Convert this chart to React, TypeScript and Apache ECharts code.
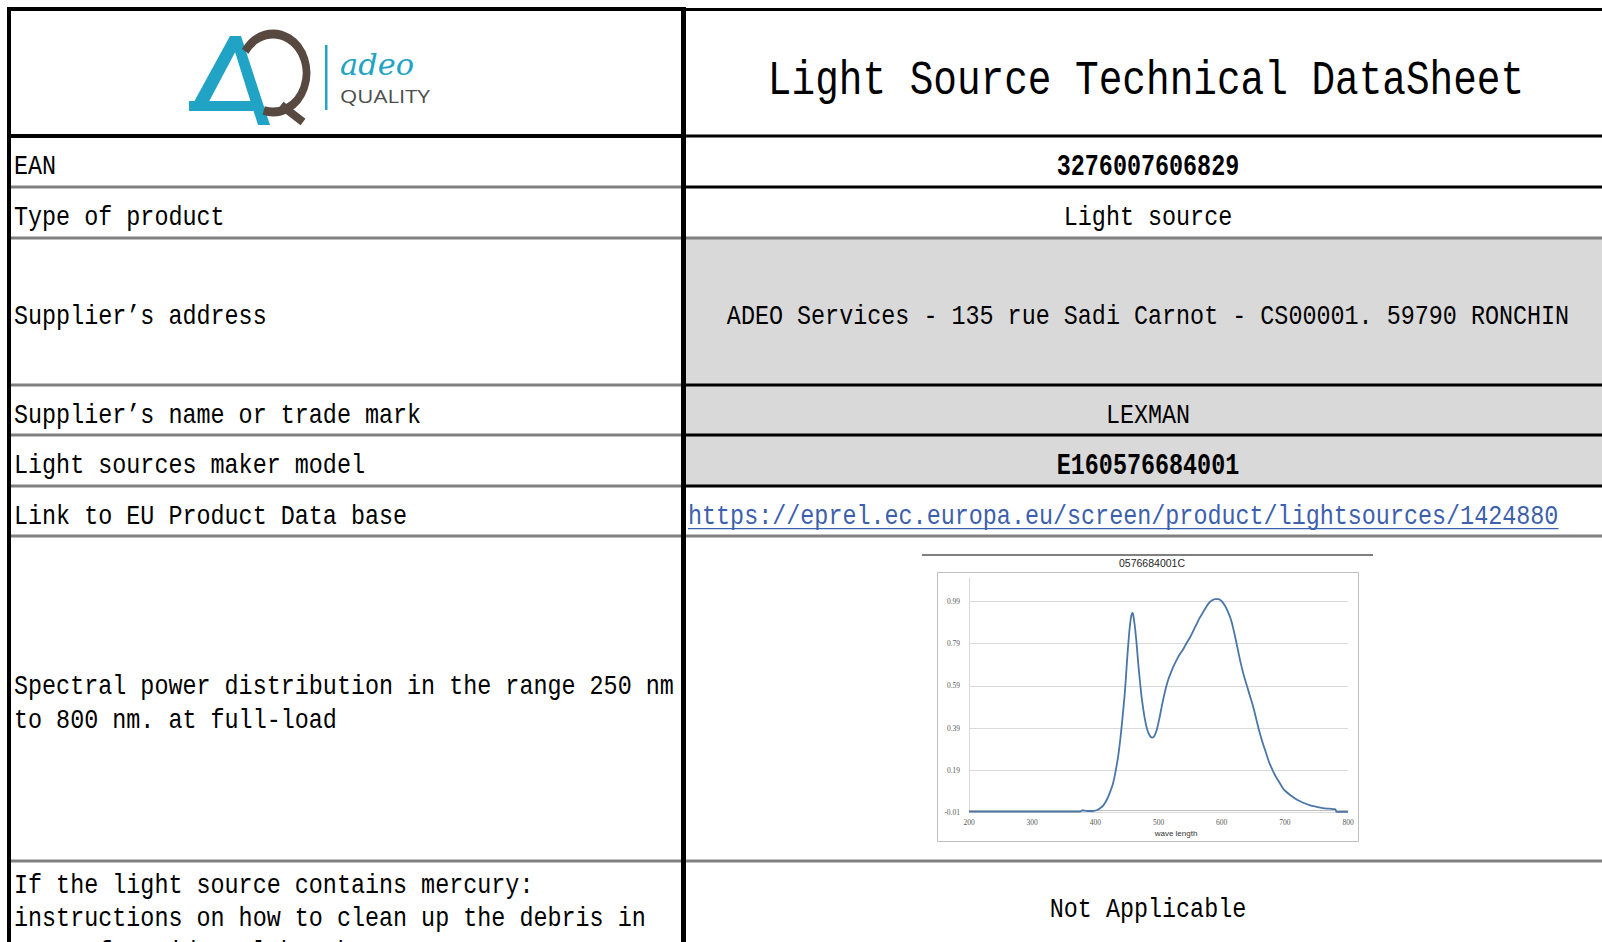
import React, { useEffect, useRef } from "react";
import * as echarts from "echarts";

// ---------- data ----------
const chartTitle = "0576684001C";
const xAxisName = "wave length";
const xTickValues = [200, 300, 400, 500, 600, 700, 800];
const yTickLabels = ["-0.01", "0.19", "0.39", "0.59", "0.79", "0.99"];

const wavelengths = [
  200, 250, 300, 350, 376, 379, 383, 390, 398, 403, 408, 413, 418, 423, 428, 432, 436, 440, 444, 447,
  450, 453, 455, 457, 459, 461, 463, 465, 468, 471, 474, 478, 482, 486, 490, 493, 497, 501, 505, 510,
  515, 520, 525, 530, 535, 540, 545, 550, 555, 560, 565, 570, 575, 580, 585, 590, 595, 600, 605, 610,
  615, 620, 625, 630, 635, 640, 645, 650, 655, 660, 665, 670, 675, 680, 685, 690, 695, 700, 710, 720,
  730, 740, 750, 760, 770, 778, 780, 782, 790, 800,
];
const intensities = [
  -0.005, -0.005, -0.005, -0.005, -0.005, 0.001, 0.0, -0.002, -0.001, 0.003, 0.012, 0.026, 0.05, 0.085, 0.128, 0.185, 0.254, 0.35, 0.47, 0.569,
  0.7, 0.82, 0.88, 0.922, 0.935, 0.905, 0.86, 0.8, 0.694, 0.6, 0.52, 0.44, 0.385, 0.355, 0.345, 0.35, 0.38, 0.43, 0.49, 0.56,
  0.615, 0.655, 0.69, 0.72, 0.745, 0.768, 0.795, 0.82, 0.85, 0.88, 0.91, 0.935, 0.96, 0.982, 0.995, 1.0, 1.0, 0.99, 0.97, 0.94,
  0.9, 0.84, 0.77, 0.7, 0.64, 0.59, 0.54, 0.49, 0.43, 0.37, 0.32, 0.275, 0.23, 0.195, 0.165, 0.14, 0.115, 0.095, 0.07, 0.05,
  0.036, 0.025, 0.018, 0.012, 0.009, 0.007, 0.006, -0.006, -0.006, -0.006,
];

const pageTitle = "Light Source Technical DataSheet";
const rowLabels = [
  ["EAN"],
  ["Type of product"],
  ["Supplier’s address"],
  ["Supplier’s name or trade mark"],
  ["Light sources maker model"],
  ["Link to EU Product Data base"],
  ["Spectral power distribution in the range 250 nm", "to 800 nm. at full-load"],
  ["If the light source contains mercury:", "instructions on how to clean up the debris in", "case of accidental breakage"],
];
const rowValues = [
  "3276007606829",
  "Light source",
  "ADEO Services - 135 rue Sadi Carnot - CS00001. 59790 RONCHIN",
  "LEXMAN",
  "E160576684001",
  "https://eprel.ec.europa.eu/screen/product/lightsources/1424880",
  "",
  "Not Applicable",
];

// ---------- layout ----------
const W = 1602;
const H = 942;
const DIV_X = 683; // divider center
const rowBounds = [9, 136, 187, 238, 385, 435, 486, 536, 861, 1000];
const leftLineColor = ["#000", "#000", "#808080", "#808080", "#808080", "#808080", "#808080", "#808080", "#808080"];
const rightLineColor = ["#000", "#000", "#000", "#808080", "#000", "#000", "#000", "#808080", "#808080"];
const grayRows = [2, 3, 4];
const boldRows = [0, 4];
const FONT = "'Liberation Mono', 'DejaVu Sans Mono', monospace";
const FS = 23.4;
const SY = 1.22;

function txt(x: number, y: number, text: string, opts: any = {}) {
  const align = opts.align || "left";
  return {
    type: "text",
    x,
    y,
    scaleY: opts.scaleY ?? SY,
    scaleX: opts.scaleX ?? 1,
    z: 30,
    silent: true,
    style: {
      text,
      fill: opts.fill || "#000",
      fontSize: opts.fontSize || FS,
      fontFamily: opts.fontFamily || FONT,
      fontWeight: opts.fontWeight || "normal",
      fontStyle: opts.fontStyle || "normal",
      align,
      textAlign: align,
      verticalAlign: "middle",
      textVerticalAlign: "middle",
    },
  };
}

function rect(x: number, y: number, w: number, h: number, fill: string, z = 10) {
  return { type: "rect", z, silent: true, shape: { x, y, width: w, height: h }, style: { fill } };
}

function buildGraphics() {
  const g: any[] = [];
  // gray fills
  grayRows.forEach((r) => {
    g.push(rect(DIV_X, rowBounds[r + 1], W - DIV_X, rowBounds[r + 2] - rowBounds[r + 1], "#d9d9d9", 1));
  });
  // horizontal lines
  for (let i = 0; i < 9; i++) {
    const y = rowBounds[i];
    const lw = i <= 1 ? 4 : 3;
    g.push(rect(7, y - lw / 2, DIV_X - 7, lw, leftLineColor[i]));
    g.push(rect(DIV_X, y - 1.5 + (i === 0 ? 0.5 : 0), W - DIV_X, 3, rightLineColor[i]));
  }
  // vertical lines
  g.push(rect(7, 7, 4, H - 7, "#000", 12));
  g.push(rect(DIV_X - 2, 7, 5, H - 7, "#000", 12));

  // header title
  g.push(txt(1146, 81.5, pageTitle, { align: "center", fontSize: 39.4, scaleY: 1.2 }));

  // row texts
  const lineGap = 33.8;
  rowLabels.forEach((lines, r) => {
    const top = rowBounds[r + 1];
    const bottom = r === 7 ? 960 : rowBounds[r + 2];
    const mid = (top + bottom) / 2 + 5;
    const cy = r === 7 ? 885 + lineGap : mid;
    lines.forEach((ln, k) => {
      const y = cy + (k - (lines.length - 1) / 2) * lineGap;
      g.push(txt(14, y, ln));
    });
    const v = rowValues[r];
    if (!v) return;
    if (r === 5) {
      g.push(txt(688, mid, v, { fill: "#3c5fae" }));
      g.push(rect(688, mid + 12, v.length * FS * 0.6, 1.3, "#3c5fae", 30));
    } else if (r === 7) {
      g.push(txt(1148, 909, v, { align: "center" }));
    } else {
      g.push(
        txt(1148, mid, v, {
          align: "center",
          fontWeight: boldRows.includes(r) ? "bold" : "normal",
          scaleY: boldRows.includes(r) ? 1.3 : SY,
        })
      );
    }
  });

  // logo
  const teal = "#20a3c4";
  const brown = "#574840";
  g.push({ type: "polygon", z: 20, silent: true, shape: { points: [[189, 111], [204, 111], [240, 43], [230, 36]] }, style: { fill: teal } });
  g.push({ type: "polygon", z: 20, silent: true, shape: { points: [[230, 36], [241, 36], [270, 125], [258, 125]] }, style: { fill: teal } });
  g.push({ type: "polygon", z: 20, silent: true, shape: { points: [[189, 101], [251, 101], [254, 111], [189, 111]] }, style: { fill: teal } });
  g.push({
    type: "group",
    x: 273,
    y: 73,
    scaleX: 0.86,
    z: 21,
    children: [
      {
        type: "arc",
        z: 21,
        silent: true,
        shape: { cx: 0, cy: 0, r: 39, startAngle: -2.55, endAngle: 1.85, clockwise: true },
        style: { stroke: brown, lineWidth: 9, fill: "none" },
      },
    ],
  });
  g.push({ type: "line", z: 21, silent: true, shape: { x1: 281, y1: 105, x2: 303, y2: 122 }, style: { stroke: brown, lineWidth: 8 } });
  g.push(rect(325, 45, 2.5, 65, teal, 20));
  g.push(txt(340, 64, "adeo", { fill: teal, fontFamily: "'DejaVu Serif', serif", fontStyle: "italic", fontSize: 29, scaleY: 1.05, scaleX: 1.05 }));
  g.push(txt(340, 96, "QUALITY", { fill: "#4d4d4d", fontFamily: "'Open Sans', sans-serif", fontSize: 18.5, scaleY: 1, scaleX: 1.2 }));

  // embedded chart decorations
  g.push({ type: "line", z: 5, silent: true, shape: { x1: 922, y1: 555, x2: 1373, y2: 555 }, style: { stroke: "#000", lineWidth: 1 } });
  g.push({ type: "rect", z: 0, silent: true, shape: { x: 937.5, y: 572.5, width: 421, height: 269 }, style: { fill: "#fff", stroke: "#bfbfbf", lineWidth: 1 } });
  g.push(txt(1152, 563, chartTitle, { align: "center", fontFamily: "'Liberation Sans', Arial, sans-serif", fontSize: 10.5, fill: "#262626", scaleY: 1 }));
  g.push(txt(1176, 833, xAxisName, { align: "center", fontFamily: "'Liberation Sans', Arial, sans-serif", fontSize: 8, fill: "#333", scaleY: 1 }));
  return g;
}

export default function App() {
  const ref = useRef<HTMLDivElement>(null);
  useEffect(() => {
    document.body.style.margin = "0";
    if (!ref.current) return;
    const chart = echarts.init(ref.current, undefined, { renderer: "svg" });
    const seriesData = wavelengths.map((w, i) => [w, intensities[i]]);
    chart.setOption({
      animation: false,
      backgroundColor: "#fff",
      grid: { left: 969, right: W - 1348, top: 578, bottom: H - 812.7, containLabel: false },
      xAxis: {
        type: "value",
        min: xTickValues[0],
        max: xTickValues[xTickValues.length - 1],
        interval: 100,
        axisLine: { show: true, lineStyle: { color: "#bfbfbf", width: 1 } },
        axisTick: { show: false },
        splitLine: { show: false },
        axisLabel: { fontSize: 7.5, color: "#595959", margin: 6, fontFamily: "'Liberation Serif', serif" },
      },
      yAxis: {
        type: "value",
        min: Number(yTickLabels[0]),
        max: 1.1,
        interval: 0.2,
        axisLine: { show: true, lineStyle: { color: "#d9d9d9", width: 1 } },
        axisTick: { show: false },
        splitLine: { show: true, showMaxLine: false, lineStyle: { color: "#d9d9d9", width: 1 } },
        axisLabel: {
          fontSize: 7.5,
          color: "#595959",
          margin: 9,
          showMaxLabel: false,
          fontFamily: "'Liberation Serif', serif",
          formatter: (v: number) => {
            const s = v.toFixed(2);
            return yTickLabels.includes(s) ? s : "";
          },
        },
      },
      series: [
        {
          type: "line",
          data: seriesData,
          smooth: 0.35,
          showSymbol: false,
          symbol: "none",
          lineStyle: { color: "#4a76a8", width: 1.8 },
          z: 3,
        },
      ],
      graphic: buildGraphics(),
    });
    return () => chart.dispose();
  }, []);
  return <div ref={ref} style={{ position: "fixed", left: 0, top: 0, width: W, height: H }} />;
}
